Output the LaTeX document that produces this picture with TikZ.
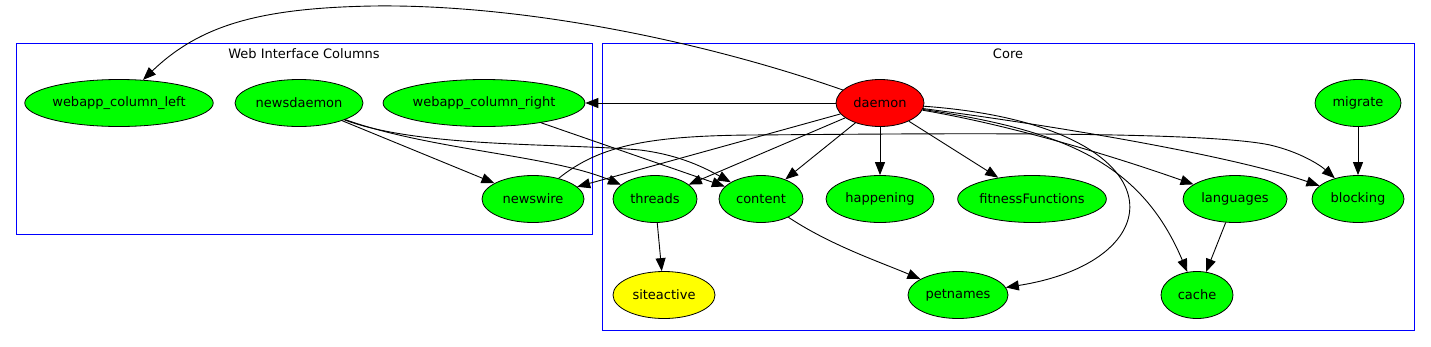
\documentclass[tikz,border=0pt]{standalone}
\usepackage{fontspec}
\setmainfont{DejaVu Sans}
\usetikzlibrary{shapes.geometric,arrows.meta}
\definecolor{gvgreen}{HTML}{00FF00}
\definecolor{gvred}{HTML}{FF0000}
\definecolor{gvyellow}{HTML}{FFFF00}
\definecolor{gvblue}{HTML}{0000FF}
\begin{document}
\begin{tikzpicture}[x=1pt,y=-1pt,
  nd/.style={ellipse,draw=black,line width=0.8pt,fill=gvgreen,inner sep=0pt,
    minimum height=47pt,font=\fontsize{13}{15}\selectfont},
  edge/.style={-{Triangle[length=13pt,width=10pt]},line width=0.9pt},
  cluster/.style={draw=gvblue,line width=1pt},
  clabel/.style={font=\fontsize{13}{15}\selectfont,inner sep=0pt}]
\useasboundingbox (0,0) rectangle (1431,346);
\fill[white] (0,0) rectangle (1431,346);
% clusters
\draw[cluster] (16,43) rectangle (592,234);
\node[clabel] (lweb) at (304,54) {Web Interface Columns};
\draw[cluster] (602,43) rectangle (1414,330);
\node[clabel] (lcore) at (1008,54) {Core};
% nodes
\node[nd,minimum width=184pt] (wcl) at (119,103) {webapp\_column\_left};
\node[nd,minimum width=128pt] (nsd) at (299,103) {newsdaemon};
\node[nd,minimum width=194pt] (wcr) at (484,103) {webapp\_column\_right};
\node[nd,minimum width=102pt] (nsw) at (533,199) {newswire};
\node[nd,fill=gvred,minimum width=88pt] (dae) at (880,103) {daemon};
\node[nd,minimum width=86pt] (mig) at (1358,103) {migrate};
\node[nd,minimum width=84pt] (thr) at (655,199) {threads};
\node[nd,minimum width=84pt] (con) at (761,199) {content};
\node[nd,minimum width=108pt] (hap) at (880,199) {happening};
\node[nd,minimum width=148pt] (fit) at (1032,199) {fitnessFunctions};
\node[nd,minimum width=104pt] (lan) at (1235,199) {languages};
\node[nd,minimum width=92pt] (blo) at (1358,199) {blocking};
\node[nd,fill=gvyellow,minimum width=102pt] (sit) at (664,295) {siteactive};
\node[nd,minimum width=100pt] (pet) at (958,295) {petnames};
\node[nd,minimum width=72pt] (cac) at (1197,295) {cache};
% edges from daemon
\draw[edge] (dae) .. controls (700,40) and (520,4) .. (373,6)
  .. controls (260,8) and (200,25) .. (wcl);
\draw[edge] (dae) -- (wcr);
\draw[edge] (dae) -- (nsw);
\draw[edge] (dae) -- (thr);
\draw[edge] (dae) -- (con);
\draw[edge] (dae) -- (hap);
\draw[edge] (dae) -- (fit);
\draw[edge] (dae) .. controls (1010,125) and (1110,155) .. (lan);
\draw[edge] (dae) .. controls (1050,125) and (1230,155) .. (blo);
\draw[edge] (dae) .. controls (1060,130) and (1140,160) .. (cac);
\draw[edge] (dae) .. controls (1180,125) and (1180,260) .. (pet);
% other edges
\draw[edge] (mig) -- (blo);
\draw[edge] (lan) -- (cac);
\draw[edge] (thr) -- (sit);
\draw[edge] (con) .. controls (830,245) and (880,262) .. (pet);
\draw[edge] (nsd) -- (nsw);
\draw[edge] (nsd) .. controls (430,150) and (550,155) .. (thr);
\draw[edge] (nsd) .. controls (420,148) and (560,143) .. (640,150)
  .. controls (680,155) and (705,168) .. (con);
\draw[edge] (wcr) -- (con);
\draw[edge] (nsw) .. controls (600,145) and (650,136) .. (750,135)
  .. controls (900,134) and (1200,130) .. (1270,145)
  .. controls (1300,152) and (1320,165) .. (blo);
\end{tikzpicture}
\end{document}
